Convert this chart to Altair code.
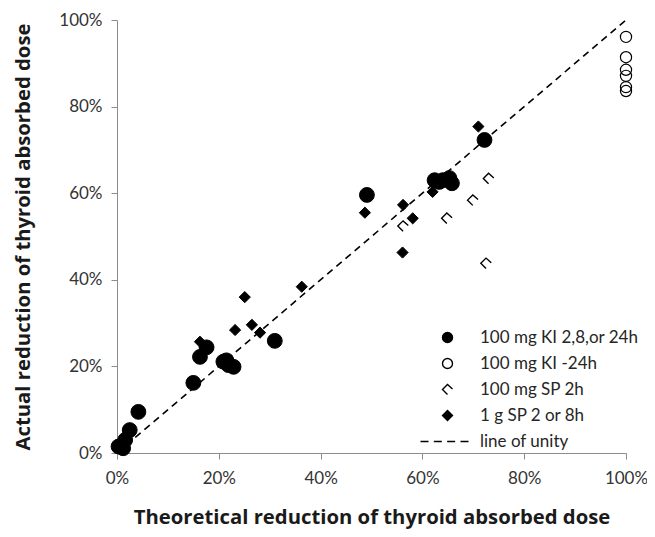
import altair as alt
import pandas as pd

# ---- data (percent values) ----
ki_x = [0.3, 1.2, 1.6, 2.5, 4.2, 15.0, 16.3, 17.6, 20.9, 21.5, 21.9, 22.9, 31.0, 49.1, 62.4, 63.3, 64.0, 65.3, 65.8, 72.2]
ki_y = [1.5, 1.1, 3.0, 5.3, 9.5, 16.2, 22.2, 24.4, 21.1, 21.4, 20.3, 19.9, 25.9, 59.6, 63.0, 62.6, 63.0, 63.5, 62.3, 72.3]

kim_x = [100, 100, 100, 100, 100, 100]
kim_y = [96.1, 91.4, 88.5, 87.1, 84.5, 83.6]

sp_x = [56.2, 64.8, 69.9, 73.0, 72.5]
sp_y = [52.4, 54.2, 58.4, 63.4, 43.8]

g1_x = [16.3, 23.2, 25.1, 26.5, 28.1, 36.3, 48.7, 56.1, 56.2, 58.1, 62.0, 71.0]
g1_y = [25.7, 28.4, 36.0, 29.6, 27.8, 38.4, 55.5, 46.3, 57.3, 54.2, 60.3, 75.4]

unity_x = [0, 100]
unity_y = [0, 100]

series_names = ["100 mg KI 2,8,or 24h", "100 mg KI -24h", "100 mg SP 2h", "1 g SP 2 or 8h", "line of unity"]
tick_values = [0, 0.2, 0.4, 0.6, 0.8, 1.0]


def frame(name, xs, ys):
    return pd.DataFrame({"x": [v / 100 for v in xs], "y": [v / 100 for v in ys], "series": name})


unity = pd.DataFrame({"x": [v / 100 for v in unity_x], "y": [v / 100 for v in unity_y]})

sp_path = "M 1 -0.1 L 0 -1 L -1 0 L 0 1"
dash_path = "M -5.4 0 L -3.8 0 M -2.73 0 L -1.13 0 M -0.07 0 L 1.53 0 M 2.6 0 L 4.2 0"

FONT = "Lato"
TFONT = "Open Sans"
xscale = alt.Scale(domain=[0, 1], nice=False, zero=True)
yscale = alt.Scale(domain=[0, 1], nice=False, zero=True)

xaxis = alt.Axis(values=tick_values, format=".0%", grid=False, labelFlush=False, labelPadding=11,
                 title="Theoretical reduction of thyroid absorbed dose", titlePadding=21)
yaxis = alt.Axis(values=tick_values, format=".0%", grid=False, labelFlush=False, labelPadding=9,
                 title="Actual reduction of thyroid absorbed dose", titlePadding=25)

legend = alt.Legend(title=None, orient="none", legendX=322, legendY=309, symbolSize=100,
                    symbolStrokeWidth=1.4, labelOffset=24, rowPadding=8, labelFontSize=17,
                    labelFont=FONT, labelColor="#262626")

shape_scale = alt.Scale(domain=series_names, range=["circle", "circle", sp_path, "diamond", dash_path])
fill_scale = alt.Scale(domain=series_names, range=["black", "transparent", "transparent", "black", "transparent"])
stroke_scale = alt.Scale(domain=series_names, range=["black", "black", "black", "black", "black"])

line = alt.Chart(unity).mark_line(color="black", strokeDash=[7, 5], strokeWidth=1.6).encode(
    x=alt.X("x:Q", scale=xscale, axis=xaxis),
    y=alt.Y("y:Q", scale=yscale, axis=yaxis),
)


def point_layer(df, size, sw):
    return alt.Chart(df).mark_point(opacity=1, size=size, strokeWidth=sw).encode(
        x=alt.X("x:Q", scale=xscale, axis=xaxis),
        y=alt.Y("y:Q", scale=yscale, axis=yaxis),
        shape=alt.Shape("series:N", scale=shape_scale, legend=legend),
        fill=alt.Fill("series:N", scale=fill_scale, legend=legend),
        stroke=alt.Stroke("series:N", scale=stroke_scale, legend=legend),
    )


layers = [
    line,
    point_layer(frame(series_names[1], kim_x, kim_y), 125, 1.2),
    point_layer(frame(series_names[2], sp_x, sp_y), 110, 1.4),
    point_layer(frame(series_names[3], g1_x, g1_y), 125, 1),
    point_layer(frame(series_names[0], ki_x, ki_y), 220, 1),
]

chart = alt.layer(*layers).properties(
    width=509, height=433,
    autosize=alt.AutoSizeParams(type="none"),
    padding={"left": 109, "top": 12, "right": 21, "bottom": 78},
).configure_view(stroke=None).configure_axis(
    domainColor="#8c8c8c", tickColor="#8c8c8c", tickSize=6,
    labelFont=FONT, labelFontSize=17, labelColor="#333333",
    titleFont=TFONT, titleFontSize=20.3, titleFontWeight="bold", titleColor="#1a1a1a",
)

chart.save("out.html", embed_options={"renderer": "svg", "actions": False})
